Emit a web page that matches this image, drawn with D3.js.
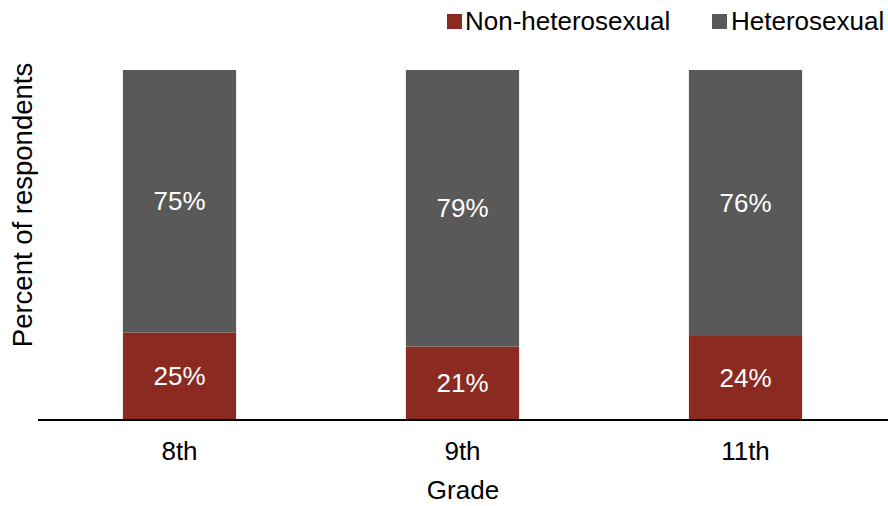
<!DOCTYPE html>
<html>
<head>
<meta charset="utf-8">
<script src="https://cdn.jsdelivr.net/npm/d3@7"></script>
<style>
  html, body { margin: 0; padding: 0; background: #fff; }
  svg { display: block; font-family: "Liberation Sans", Arial, sans-serif; }
</style>
</head>
<body>
<svg id="chart" width="888" height="506"></svg>
<script>
// Share of respondents by grade and sexual orientation (percent)
const grades = ["8th", "9th", "11th"];
const nonHetero = [25, 21, 24];
const hetero = [75, 79, 76];
const seriesNames = ["Non-heterosexual", "Heterosexual"];
const seriesColors = ["#8b2a21", "#595959"];

const svg = d3.select("#chart");
const margin = { left: 38, right: 1, top: 70, bottom: 86 };
const W = 888, H = 506;
const FONT = 26;

const x = d3.scaleBand()
  .domain(grades)
  .range([margin.left, W - margin.right])
  .paddingInner(0.6)
  .paddingOuter(0.3);

const y = d3.scaleLinear()
  .domain([0, 100])
  .range([H - margin.bottom, margin.top]);

const rows = grades.map((g, i) => ({ grade: g, "Non-heterosexual": nonHetero[i], "Heterosexual": hetero[i] }));
const stacked = d3.stack().keys(seriesNames)(rows);

const layers = svg.append("g").selectAll("g")
  .data(stacked)
  .join("g")
  .attr("fill", (d, i) => seriesColors[i]);

layers.selectAll("rect")
  .data(d => d)
  .join("rect")
  .attr("x", d => x(d.data.grade))
  .attr("width", x.bandwidth())
  .attr("y", d => y(d[1]))
  .attr("height", d => y(d[0]) - y(d[1]));

// Value labels centred in each segment
layers.selectAll("text")
  .data(d => d.map(v => ({ v, key: d.key })))
  .join("text")
  .attr("x", d => x(d.v.data.grade) + x.bandwidth() / 2)
  .attr("y", d => (y(d.v[0]) + y(d.v[1])) / 2)
  .attr("dy", "0.35em")
  .attr("text-anchor", "middle")
  .attr("fill", "#ffffff")
  .attr("font-size", FONT)
  .text(d => d.v.data[d.key] + "%");

// Baseline axis with category labels
const xAxis = svg.append("g")
  .attr("transform", `translate(0,${y(0)})`)
  .call(d3.axisBottom(x).tickSize(0).tickPadding(22));
xAxis.select(".domain").attr("stroke", "#000").attr("stroke-width", 2)
  .attr("d", `M${margin.left},0H${W}`);
xAxis.selectAll(".tick text")
  .attr("font-size", FONT)
  .attr("font-family", "Liberation Sans, Arial, sans-serif")
  .attr("fill", "#000");

// Axis titles
svg.append("text")
  .attr("x", x.range()[0] + (x.range()[1] - x.range()[0]) / 2 + 0.5)
  .attr("y", 499)
  .attr("text-anchor", "middle")
  .attr("font-size", FONT)
  .text("Grade");

svg.append("text")
  .attr("transform", `translate(32,205) rotate(-90)`)
  .attr("text-anchor", "middle")
  .attr("font-size", 27.5)
  .text("Percent of respondents");

// Legend
const legendX = [447, 712];
const legend = svg.append("g").selectAll("g")
  .data(seriesNames)
  .join("g")
  .attr("transform", (d, i) => `translate(${legendX[i]},14)`);
legend.append("rect")
  .attr("width", 15).attr("height", 15)
  .attr("fill", (d, i) => seriesColors[i]);
legend.append("text")
  .attr("x", (d, i) => i === 0 ? 18 : 19)
  .attr("y", 16)
  .attr("font-size", FONT)
  .text(d => d);
</script>
</body>
</html>
